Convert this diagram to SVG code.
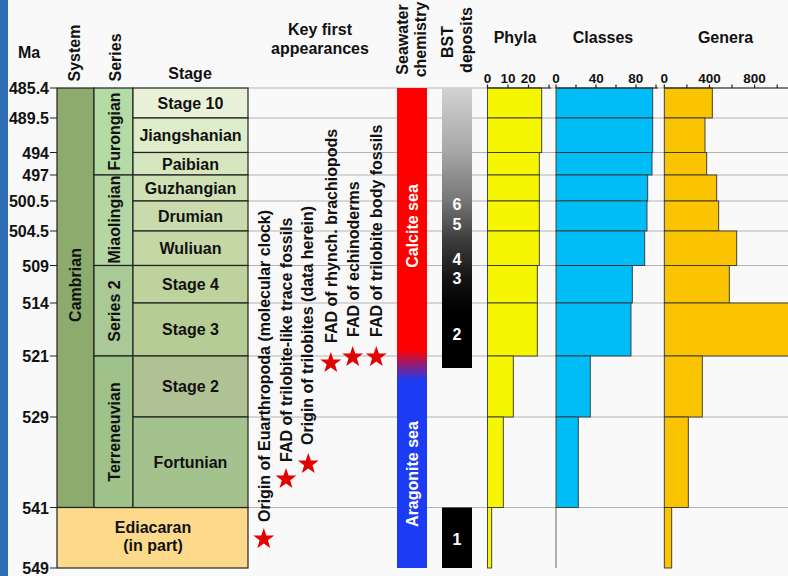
<svg xmlns="http://www.w3.org/2000/svg" width="788" height="576" viewBox="0 0 788 576">
<style>
text{font-family:"Liberation Sans",Arial,sans-serif;font-weight:bold;fill:#111;font-size:16px}
.m{text-anchor:middle}
.e{text-anchor:end}
.ax{font-size:13.5px;text-anchor:middle}
.box{stroke:#222;stroke-width:1.2}
.grid{stroke:#b4b4b4;stroke-width:1;fill:none}
.tk{stroke:#222;stroke-width:1.2}
.bar{stroke:#333;stroke-width:0.9}
.ph{fill:#f6f600}
.cl{fill:#00bdf7}
.ge{fill:#fac400}
.w{fill:#fff}
.star{fill:#e30000}
</style>
<defs>
<path id="star" d="M0,-11 L2.59,-3.56 L10.46,-3.4 L4.18,1.36 L6.47,8.9 L0,4.4 L-6.47,8.9 L-4.18,1.36 L-10.46,-3.4 L-2.59,-3.56 Z"/>
<linearGradient id="sea" x1="0" y1="0" x2="0" y2="1">
<stop offset="0" stop-color="#ff0000"/>
<stop offset="0.545" stop-color="#ff0000"/>
<stop offset="0.61" stop-color="#1c3cf4"/>
<stop offset="1" stop-color="#1c3cf4"/>
</linearGradient>
<linearGradient id="bst" x1="0" y1="0" x2="0" y2="1">
<stop offset="0" stop-color="#d2d2d2"/>
<stop offset="0.22" stop-color="#a8a8a8"/>
<stop offset="0.4" stop-color="#777"/>
<stop offset="0.54" stop-color="#3e3e3e"/>
<stop offset="0.69" stop-color="#111"/>
<stop offset="0.8" stop-color="#000"/>
<stop offset="1" stop-color="#000"/>
</linearGradient>
</defs>
<rect x="0" y="0" width="788" height="576" fill="#f9f9f9"/>
<rect x="0" y="0" width="8" height="576" fill="#2f6db5"/>

<!-- headers -->
<g id="headers">
<text x="29" y="58" class="m">Ma</text>
<text transform="translate(80,81.5) rotate(-90)">System</text>
<text transform="translate(121,81.5) rotate(-90)">Series</text>
<text x="190" y="79" class="m">Stage</text>
<text x="320" y="35" class="m">Key first</text>
<text x="320" y="53.5" class="m">appearances</text>
<text transform="translate(407.5,39.5) rotate(-90)" class="m">Seawater</text>
<text transform="translate(426,39.5) rotate(-90)" class="m">chemistry</text>
<text transform="translate(453,42) rotate(-90)" class="m">BST</text>
<text transform="translate(471.5,40) rotate(-90)" class="m">deposits</text>
<text x="515" y="42.5" class="m">Phyla</text>
<text x="603" y="42.5" class="m">Classes</text>
<text x="725.5" y="42.5" class="m">Genera</text>
</g>

<!-- gridlines -->
<g id="grid" class="grid">
<path d="M248,88H788M248,118H788M248,152.5H788M248,175H788M248,201H788M248,231H788M248,265.5H788M248,303H788M248,356H788M248,417H788M248,507.5H788"/>
</g>

<!-- time axis -->
<g id="time-axis">
<path class="tk" d="M50,88H57M50,118H57M50,152.5H57M50,175H57M50,201H57M50,231H57M50,265.5H57M50,303H57M50,356H57M50,417H57M50,507.5H57M50,568H57"/>
<text x="49" y="94" class="e">485.4</text>
<text x="49" y="124" class="e">489.5</text>
<text x="49" y="158.5" class="e">494</text>
<text x="49" y="181" class="e">497</text>
<text x="49" y="207" class="e">500.5</text>
<text x="49" y="237" class="e">504.5</text>
<text x="49" y="271.5" class="e">509</text>
<text x="49" y="309" class="e">514</text>
<text x="49" y="362" class="e">521</text>
<text x="49" y="423" class="e">529</text>
<text x="49" y="513.5" class="e">541</text>
<text x="49" y="574" class="e">549</text>
</g>

<!-- system -->
<g id="cambrian">
<rect class="box" x="57" y="88" width="37" height="419.5" fill="#8dab6c"/>
<text transform="translate(81,285) rotate(-90)" class="m">Cambrian</text>
</g>
<g id="ediacaran">
<rect class="box" x="57" y="507.5" width="191" height="60.5" fill="#fdd98b"/>
<text x="153" y="533" class="m">Ediacaran</text>
<text x="153" y="551" class="m">(in part)</text>
</g>

<!-- series -->
<g id="furongian">
<rect class="box" x="94" y="88" width="39" height="87" fill="#b4dba6"/>
<text transform="translate(119.5,131.5) rotate(-90)" class="m">Furongian</text>
</g>
<g id="miaolingian">
<rect class="box" x="94" y="175" width="39" height="90.5" fill="#b4d6a2"/>
<text transform="translate(119.5,219.5) rotate(-90)" class="m">Miaolingian</text>
</g>
<g id="series2">
<rect class="box" x="94" y="265.5" width="39" height="90.5" fill="#a9c996"/>
<text transform="translate(119.5,311) rotate(-90)" class="m">Series 2</text>
</g>
<g id="terreneuvian">
<rect class="box" x="94" y="356" width="39" height="151.5" fill="#9fc28b"/>
<text transform="translate(119.5,432) rotate(-90)" class="m">Terreneuvian</text>
</g>

<!-- stages -->
<g id="stage10"><rect class="box" x="133" y="88" width="115" height="30" fill="#e9f1d8"/><text x="190.5" y="108.7" class="m">Stage 10</text></g>
<g id="jiangshanian"><rect class="box" x="133" y="118" width="115" height="34.5" fill="#deecc9"/><text x="190.5" y="141" class="m">Jiangshanian</text></g>
<g id="paibian"><rect class="box" x="133" y="152.5" width="115" height="22.5" fill="#d6e7c0"/><text x="190.5" y="169.5" class="m">Paibian</text></g>
<g id="guzhangian"><rect class="box" x="133" y="175" width="115" height="26" fill="#cfe0b5"/><text x="190.5" y="193.7" class="m">Guzhangian</text></g>
<g id="drumian"><rect class="box" x="133" y="201" width="115" height="30" fill="#c9dbac"/><text x="190.5" y="221.7" class="m">Drumian</text></g>
<g id="wuliuan"><rect class="box" x="133" y="231" width="115" height="34.5" fill="#c4d7a4"/><text x="190.5" y="254" class="m">Wuliuan</text></g>
<g id="stage4"><rect class="box" x="133" y="265.5" width="115" height="37.5" fill="#bed29d"/><text x="190.5" y="290" class="m">Stage 4</text></g>
<g id="stage3"><rect class="box" x="133" y="303" width="115" height="53" fill="#b5cd95"/><text x="190.5" y="335.2" class="m">Stage 3</text></g>
<g id="stage2"><rect class="box" x="133" y="356" width="115" height="61" fill="#b0c294"/><text x="190.5" y="392.2" class="m">Stage 2</text></g>
<g id="fortunian"><rect class="box" x="133" y="417" width="115" height="90.5" fill="#a3c28e"/><text x="190.5" y="468" class="m">Fortunian</text></g>

<!-- key first appearances -->
<g id="fa1"><text transform="translate(270,522) rotate(-90)">Origin of Euarthropoda (molecular clock)</text><use href="#star" class="star" x="263.8" y="539"/></g>
<g id="fa2"><text transform="translate(291.5,462) rotate(-90)">FAD of trilobite-like trace fossils</text><use href="#star" class="star" x="286" y="479"/></g>
<g id="fa3"><text transform="translate(313,445) rotate(-90)">Origin of trilobites (data herein)</text><use href="#star" class="star" x="308.3" y="464"/></g>
<g id="fa4"><text transform="translate(336.5,343) rotate(-90)">FAD of rhynch. brachiopods</text><use href="#star" class="star" x="330.8" y="363"/></g>
<g id="fa5"><text transform="translate(358.5,337) rotate(-90)">FAD of echinoderms</text><use href="#star" class="star" x="352.7" y="357"/></g>
<g id="fa6"><text transform="translate(382,337) rotate(-90)">FAD of trilobite body fossils</text><use href="#star" class="star" x="376.3" y="357"/></g>

<!-- seawater chemistry -->
<g id="seawater">
<rect x="397" y="88" width="30" height="480" fill="url(#sea)"/>
<text transform="translate(418,226) rotate(-90)" class="m w">Calcite sea</text>
<text transform="translate(417.5,474) rotate(-90)" class="m w">Aragonite sea</text>
</g>

<!-- BST deposits -->
<g id="bst">
<rect x="442" y="88" width="30" height="280" fill="url(#bst)"/>
<rect x="442" y="507.5" width="30" height="60.5" fill="#000"/>
<text x="457" y="210" class="m w">6</text>
<text x="457" y="229.5" class="m w">5</text>
<text x="457" y="265" class="m w">4</text>
<text x="457" y="284" class="m w">3</text>
<text x="457" y="339.5" class="m w">2</text>
<text x="457" y="545" class="m w">1</text>
</g>

<!-- phyla -->
<g id="phyla">
<rect class="bar ph" x="487.5" y="88" width="54.2" height="30"/>
<rect class="bar ph" x="487.5" y="118" width="54.2" height="34.5"/>
<rect class="bar ph" x="487.5" y="152.5" width="51.8" height="22.5"/>
<rect class="bar ph" x="487.5" y="175" width="51.8" height="26"/>
<rect class="bar ph" x="487.5" y="201" width="51.8" height="30"/>
<rect class="bar ph" x="487.5" y="231" width="51.8" height="34.5"/>
<rect class="bar ph" x="487.5" y="265.5" width="49.8" height="37.5"/>
<rect class="bar ph" x="487.5" y="303" width="49.8" height="53"/>
<rect class="bar ph" x="487.5" y="356" width="25.8" height="61"/>
<rect class="bar ph" x="487.5" y="417" width="15.8" height="90.5"/>
<rect class="bar ph" x="487.5" y="507.5" width="4.2" height="60.5"/>
<path class="tk" d="M487.5,88H551M487.5,84.5V88M508,84.5V88M528.5,84.5V88M549,84.5V88"/>
<text x="487.5" y="83" class="ax">0</text>
<text x="508" y="83" class="ax">10</text>
<text x="528.3" y="83" class="ax">20</text>
</g>

<!-- classes -->
<g id="classes">
<rect class="bar cl" x="556" y="88" width="96.7" height="30"/>
<rect class="bar cl" x="556" y="118" width="96.7" height="34.5"/>
<rect class="bar cl" x="556" y="152.5" width="96" height="22.5"/>
<rect class="bar cl" x="556" y="175" width="91.7" height="26"/>
<rect class="bar cl" x="556" y="201" width="91" height="30"/>
<rect class="bar cl" x="556" y="231" width="88.7" height="34.5"/>
<rect class="bar cl" x="556" y="265.5" width="76.3" height="37.5"/>
<rect class="bar cl" x="556" y="303" width="75" height="53"/>
<rect class="bar cl" x="556" y="356" width="34.3" height="61"/>
<rect class="bar cl" x="556" y="417" width="22.3" height="90.5"/>
<path d="M556,507.5V568" stroke="#666" stroke-width="1"/>
<path class="tk" d="M556,88H658M556,84.5V88M576,84.5V88M596,84.5V88M616,84.5V88M636,84.5V88M656,84.5V88"/>
<text x="556" y="83" class="ax">0</text>
<text x="596.2" y="83" class="ax">40</text>
<text x="635.8" y="83" class="ax">80</text>
</g>

<!-- genera -->
<g id="genera">
<rect class="bar ge" x="664.3" y="88" width="48" height="30"/>
<rect class="bar ge" x="664.3" y="118" width="40.7" height="34.5"/>
<rect class="bar ge" x="664.3" y="152.5" width="42.4" height="22.5"/>
<rect class="bar ge" x="664.3" y="175" width="52.4" height="26"/>
<rect class="bar ge" x="664.3" y="201" width="54.4" height="30"/>
<rect class="bar ge" x="664.3" y="231" width="72.4" height="34.5"/>
<rect class="bar ge" x="664.3" y="265.5" width="65" height="37.5"/>
<rect class="bar ge" x="664.3" y="303" width="140" height="53"/>
<rect class="bar ge" x="664.3" y="356" width="38" height="61"/>
<rect class="bar ge" x="664.3" y="417" width="24" height="90.5"/>
<rect class="bar ge" x="664.3" y="507.5" width="7.4" height="60.5"/>
<path class="tk" d="M664.3,88H788M664.3,84.5V88M686.9,84.5V88M709.5,84.5V88M732,84.5V88M754.6,84.5V88M777.2,84.5V88"/>
<text x="664.3" y="83" class="ax">0</text>
<text x="709.5" y="83" class="ax">400</text>
<text x="754.5" y="83" class="ax">800</text>
</g>
</svg>
